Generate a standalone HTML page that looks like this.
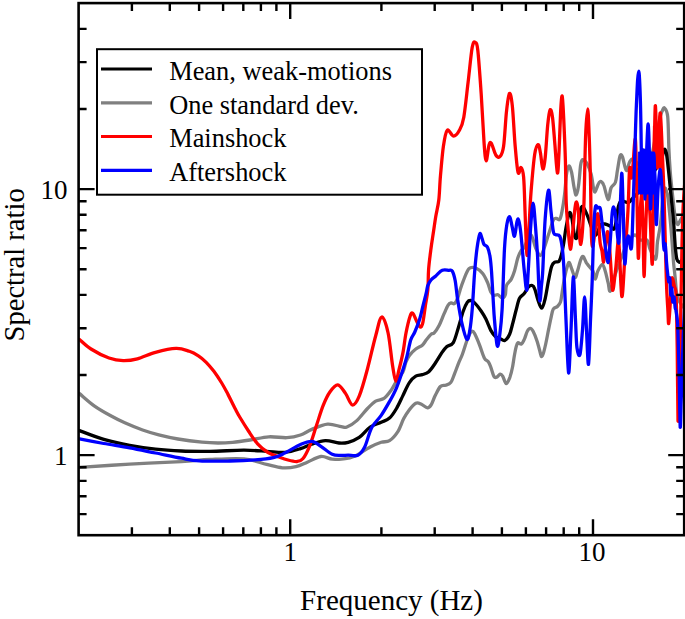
<!DOCTYPE html>
<html><head><meta charset="utf-8"><style>
html,body{margin:0;padding:0;background:#fff;}
svg{display:block;}
text{font-family:"Liberation Serif",serif;fill:#000;}
</style></head><body>
<svg width="685" height="619" viewBox="0 0 685 619">
<defs><clipPath id="c"><rect x="78.6" y="3.1" width="605.6" height="532.1"/></clipPath></defs>
<g clip-path="url(#c)" fill="none" stroke-width="3.3" stroke-linejoin="round" stroke-linecap="round">
<path d="M79.5,393.6 C82.0,395.6 89.1,402.2 94.2,405.8 C99.3,409.4 105.2,412.7 110.3,415.5 C115.4,418.3 119.4,420.4 124.8,422.8 C130.2,425.2 136.9,428.0 142.6,430.0 C148.3,432.0 152.9,433.4 158.8,434.9 C164.7,436.4 170.8,437.8 178.0,439.0 C185.2,440.2 195.3,441.5 202.0,442.2 C208.7,442.9 212.9,443.0 218.0,443.0 C223.1,443.0 227.3,442.8 232.6,442.3 C237.9,441.8 244.0,440.9 250.0,440.0 C256.0,439.1 262.7,437.2 268.8,436.8 C274.9,436.4 281.6,438.0 286.9,437.7 C292.2,437.4 296.4,436.4 300.5,435.0 C304.6,433.6 307.3,431.2 311.8,429.4 C316.3,427.6 322.7,424.6 327.6,424.2 C332.5,423.8 338.0,426.2 341.2,426.7 C344.4,427.2 344.3,428.0 346.9,427.0 C349.4,426.0 353.1,424.0 356.5,420.9 C359.9,417.8 364.3,411.8 367.5,408.5 C370.7,405.2 372.9,402.8 375.7,401.1 C378.4,399.4 381.5,400.1 384.0,398.4 C386.5,396.7 388.5,393.9 390.8,390.7 C393.1,387.5 395.7,382.1 397.7,379.0 C399.7,375.9 401.5,374.8 402.9,372.0 C404.3,369.2 404.9,364.8 406.0,362.0 C407.1,359.2 407.8,357.7 409.4,355.5 C411.0,353.3 413.6,350.7 415.8,349.0 C418.0,347.3 420.6,346.7 422.3,345.2 C424.0,343.7 424.8,341.9 426.2,340.1 C427.6,338.3 429.7,335.6 431.0,334.4 C432.3,333.2 432.8,334.3 434.2,332.8 C435.6,331.3 437.5,328.6 439.1,325.5 C440.7,322.4 442.4,317.6 443.9,314.2 C445.4,310.8 446.8,307.2 448.0,305.3 C449.2,303.4 450.1,303.2 451.2,302.9 C452.3,302.6 453.3,304.5 454.4,303.7 C455.5,302.9 456.8,300.4 457.7,298.1 C458.6,295.8 459.2,292.9 460.1,290.0 C461.0,287.1 461.8,284.4 463.3,280.8 C464.8,277.2 466.9,270.8 469.0,268.7 C471.1,266.6 473.9,267.4 476.2,268.2 C478.5,269.0 480.8,271.1 482.7,273.5 C484.6,275.9 486.1,279.3 487.5,282.4 C488.9,285.5 489.7,290.0 490.8,292.1 C491.9,294.2 492.8,294.9 494.0,295.3 C495.2,295.8 496.6,294.3 498.0,294.8 C499.4,295.3 500.9,298.1 502.1,298.1 C503.3,298.1 504.6,296.9 505.3,294.8 C506.0,292.7 505.5,288.1 506.5,285.5 C507.5,282.9 510.0,281.5 511.3,279.1 C512.6,276.7 513.4,274.5 514.5,271.0 C515.6,267.5 516.7,261.5 517.8,258.1 C518.9,254.7 519.9,252.6 521.0,250.8 C522.1,249.0 522.6,250.2 524.2,247.5 C525.8,244.8 528.8,234.6 530.7,234.6 C532.6,234.6 533.9,244.0 535.5,247.5 C537.1,251.0 538.9,255.6 540.4,255.6 C541.9,255.6 543.0,251.0 544.4,247.5 C545.8,244.0 547.0,239.2 548.5,234.6 C550.0,230.0 552.0,222.8 553.3,220.1 C554.6,217.4 555.4,218.6 556.5,218.5 C557.6,218.4 558.8,220.7 559.8,219.3 C560.8,218.0 561.4,214.6 562.2,210.4 C563.0,206.2 563.9,200.2 564.6,194.2 C565.3,188.2 565.8,179.2 566.5,174.5 C567.2,169.8 568.1,166.4 568.9,166.0 C569.7,165.6 570.6,168.5 571.5,172.0 C572.4,175.5 573.2,183.2 574.0,187.0 C574.8,190.8 575.4,195.2 576.1,195.0 C576.9,194.8 577.8,190.8 578.5,186.0 C579.2,181.2 580.0,170.2 580.5,166.0 C581.0,161.8 581.2,161.5 581.8,160.5 C582.3,159.5 582.9,159.5 583.8,160.0 C584.7,160.5 585.8,161.2 587.0,163.5 C588.2,165.8 590.0,169.9 591.1,174.0 C592.2,178.1 592.8,185.0 593.5,188.0 C594.2,191.0 594.4,192.3 595.1,192.0 C595.8,191.7 596.7,187.8 597.5,186.0 C598.3,184.2 599.0,181.7 600.0,181.5 C601.0,181.3 602.4,182.1 603.7,185.1 C605.1,188.1 606.9,199.1 608.1,199.6 C609.3,200.1 609.8,190.9 611.0,188.0 C612.2,185.1 614.3,185.2 615.4,182.2 C616.5,179.2 616.7,174.4 617.5,170.0 C618.3,165.6 619.2,158.2 620.0,156.0 C620.8,153.8 621.5,154.6 622.5,157.0 C623.5,159.4 625.1,169.7 626.3,170.5 C627.5,171.3 628.5,163.9 629.6,162.0 C630.7,160.1 631.3,158.5 633.0,159.0 C634.7,159.5 637.2,164.8 640.0,165.0 C642.8,165.2 647.5,164.2 650.0,160.0 C652.5,155.8 653.3,147.0 655.0,140.0 C656.7,133.0 658.8,122.8 660.0,118.0 C661.2,113.2 661.5,112.7 662.2,111.0 C663.0,109.3 663.6,107.0 664.5,108.0 C665.4,109.0 667.0,109.9 667.7,116.7 C668.4,123.5 668.5,139.8 668.9,149.1 C669.3,158.4 669.7,164.4 670.3,172.3 C670.9,180.2 671.9,189.0 672.7,196.5 C673.5,204.0 674.4,212.7 675.2,217.4 C676.0,222.1 676.8,223.9 677.6,224.5 C678.4,225.1 679.1,222.4 680.0,221.0 C680.9,219.6 682.2,216.8 683.2,215.8 C684.2,214.8 685.5,215.1 686.0,215.0" stroke="#808080"/>
<path d="M79.5,467.3 C87.9,466.8 112.7,465.1 129.7,464.2 C146.7,463.2 168.0,462.4 181.4,461.6 C194.8,460.8 199.6,460.0 210.0,459.5 C220.4,459.0 234.5,458.0 243.9,458.8 C253.3,459.6 260.2,462.9 266.6,464.4 C273.0,465.9 277.5,467.4 282.4,467.8 C287.3,468.2 291.9,467.6 296.0,466.7 C300.1,465.8 303.2,463.9 307.3,462.2 C311.4,460.5 316.8,457.0 320.9,456.5 C325.0,456.0 328.4,458.8 332.2,459.2 C336.0,459.6 339.9,459.2 343.5,458.8 C347.1,458.4 349.2,458.6 353.7,456.6 C358.1,454.6 365.6,449.4 370.2,447.0 C374.8,444.6 378.0,443.4 381.2,442.3 C384.4,441.2 386.8,442.4 389.5,440.7 C392.2,439.0 395.3,435.5 397.7,431.9 C400.1,428.2 401.7,422.5 403.6,418.8 C405.6,415.1 407.4,412.4 409.4,409.8 C411.4,407.2 413.9,404.3 415.8,403.3 C417.7,402.3 419.1,403.2 421.0,404.0 C422.9,404.8 425.8,407.7 427.5,407.8 C429.2,407.9 430.0,406.6 431.3,404.6 C432.6,402.6 433.7,398.6 435.2,395.6 C436.7,392.6 438.7,388.2 440.4,386.5 C442.1,384.8 443.9,385.8 445.6,385.2 C447.3,384.6 449.2,384.5 450.7,382.6 C452.2,380.7 453.3,376.8 454.6,373.6 C455.9,370.4 457.2,366.5 458.5,363.3 C459.8,360.1 461.1,357.8 462.4,354.2 C463.7,350.6 465.3,345.1 466.5,341.7 C467.7,338.3 468.9,335.4 469.8,333.6 C470.8,331.9 471.4,331.2 472.2,331.2 C473.0,331.2 473.4,331.3 474.6,333.6 C475.8,335.9 477.9,340.8 479.5,344.9 C481.1,348.9 482.8,355.0 484.3,357.9 C485.8,360.8 487.5,360.4 488.6,362.2 C489.8,363.9 490.3,366.0 491.2,368.4 C492.1,370.8 493.0,374.9 493.9,376.4 C494.8,377.9 495.6,377.7 496.6,377.3 C497.6,376.9 499.1,374.4 500.1,374.2 C501.1,374.0 501.8,374.8 502.8,376.4 C503.8,378.0 505.1,383.5 506.3,383.6 C507.5,383.8 508.8,380.1 509.9,377.3 C510.9,374.5 511.9,370.2 512.6,366.7 C513.3,363.1 513.7,359.3 514.3,356.0 C514.9,352.7 515.5,349.3 516.1,347.1 C516.7,344.9 517.0,343.2 517.9,342.7 C518.8,342.2 520.3,344.6 521.4,344.0 C522.5,343.4 523.4,341.2 524.4,339.1 C525.4,337.0 526.3,333.1 527.3,331.3 C528.3,329.5 529.2,328.4 530.2,328.4 C531.2,328.4 532.0,329.2 533.1,331.3 C534.2,333.4 535.9,337.6 537.0,341.0 C538.1,344.4 539.3,349.1 540.0,351.7 C540.7,354.3 540.9,356.3 541.4,356.6 C541.9,356.9 542.6,355.7 543.3,353.6 C544.0,351.5 544.8,348.0 545.7,344.0 C546.6,340.0 547.7,333.8 548.6,329.4 C549.5,325.0 550.2,321.2 551.0,317.8 C551.8,314.4 552.2,310.9 553.3,309.0 C554.4,307.1 556.2,307.7 557.4,306.5 C558.6,305.3 559.8,304.1 560.6,301.7 C561.4,299.3 561.5,296.0 562.2,292.0 C562.9,288.0 563.7,282.1 564.6,277.5 C565.5,272.9 567.1,266.9 567.9,264.5 C568.7,262.1 568.8,262.1 569.5,262.9 C570.2,263.7 571.0,267.0 571.9,269.4 C572.8,271.8 574.2,277.2 575.1,277.5 C576.0,277.8 576.5,274.0 577.5,271.0 C578.5,268.0 579.8,262.1 580.8,259.7 C581.8,257.3 582.3,256.0 583.2,256.5 C584.1,257.0 585.3,261.1 586.4,262.9 C587.5,264.6 588.6,265.6 589.7,267.0 C590.8,268.4 592.0,269.0 592.9,271.0 C593.8,273.0 594.5,279.1 595.3,279.1 C596.1,279.1 596.7,273.4 597.9,270.9 C599.1,268.4 601.1,264.3 602.3,264.3 C603.5,264.3 604.2,267.9 605.2,270.9 C606.2,273.9 607.2,279.1 608.1,282.5 C609.0,285.9 609.1,292.4 610.3,291.2 C611.4,289.9 613.1,280.8 615.0,275.0 C616.9,269.2 619.6,262.2 621.8,256.6 C624.0,251.0 625.8,244.8 628.0,241.2 C630.2,237.6 633.0,235.2 635.0,235.0 C637.0,234.8 638.0,239.2 640.0,240.0 C642.0,240.8 645.3,238.5 647.0,240.0 C648.7,241.5 648.5,245.8 650.0,249.0 C651.5,252.2 654.5,260.3 655.7,259.1 C657.0,257.9 656.7,247.6 657.5,241.8 C658.3,236.0 659.3,233.0 660.4,224.4 C661.5,215.8 662.8,195.2 663.9,190.0 C665.0,184.8 666.3,190.8 667.1,193.2 C667.9,195.6 668.2,199.9 668.7,204.5 C669.2,209.1 669.8,214.7 670.3,220.6 C670.8,226.5 671.4,233.1 671.9,240.0 C672.4,246.9 673.0,255.7 673.5,262.0 C674.0,268.3 674.7,272.6 675.2,278.0 C675.8,283.4 676.0,290.4 676.8,294.5 C677.6,298.6 678.6,300.0 680.1,302.6 C681.6,305.2 685.0,308.8 686.0,310.0" stroke="#808080"/>
<path d="M79.5,430.6 C83.5,432.1 95.4,436.9 103.8,439.4 C112.2,441.8 121.1,443.7 129.7,445.3 C138.3,446.9 146.9,448.2 155.5,449.2 C164.1,450.1 172.3,450.6 181.4,451.0 C190.5,451.4 199.6,451.4 210.0,451.3 C220.4,451.2 234.5,450.2 243.9,450.2 C253.3,450.2 259.8,450.9 266.6,451.3 C273.4,451.7 279.1,452.8 284.7,452.4 C290.3,451.9 296.0,450.0 300.5,448.6 C305.0,447.2 307.7,445.4 311.8,444.1 C315.9,442.8 320.9,440.9 325.4,440.7 C329.9,440.5 335.2,442.7 339.0,443.0 C342.8,443.3 344.8,443.2 348.2,442.3 C351.6,441.4 355.5,439.9 359.2,437.4 C362.9,434.8 366.5,429.5 370.2,427.0 C373.9,424.5 378.0,423.8 381.2,422.3 C384.4,420.8 386.9,420.4 389.5,418.1 C392.1,415.8 394.3,412.2 396.5,408.5 C398.7,404.8 400.8,399.9 402.9,395.6 C405.0,391.3 407.2,385.8 409.4,382.6 C411.5,379.4 413.6,377.5 415.8,376.2 C418.0,374.9 420.1,375.4 422.3,374.6 C424.5,373.9 426.7,373.6 428.8,371.7 C430.9,369.8 433.1,366.4 435.2,363.3 C437.3,360.2 439.8,355.7 441.7,352.9 C443.6,350.1 445.0,348.2 446.9,346.5 C448.8,344.8 451.4,345.8 453.3,342.6 C455.2,339.4 456.8,332.5 458.5,327.2 C460.2,321.9 461.8,315.2 463.3,311.0 C464.8,306.8 466.2,303.9 467.4,302.1 C468.6,300.4 469.4,300.4 470.6,300.5 C471.8,300.6 472.9,301.1 474.6,302.9 C476.4,304.6 479.2,308.3 481.1,311.0 C483.0,313.7 484.3,315.9 485.9,319.1 C487.5,322.3 489.2,327.4 490.8,330.4 C492.4,333.3 494.1,335.4 495.6,336.8 C497.1,338.2 498.5,337.9 500.0,338.5 C501.5,339.1 503.2,341.2 504.8,340.5 C506.4,339.8 508.4,337.0 509.7,334.0 C511.0,331.0 511.8,326.7 512.9,322.7 C514.0,318.7 515.1,313.8 516.2,309.8 C517.3,305.8 518.1,301.2 519.4,298.5 C520.7,295.8 522.7,295.5 524.2,293.6 C525.7,291.7 526.9,288.6 528.3,287.2 C529.6,285.8 531.2,285.2 532.3,285.5 C533.4,285.8 533.8,286.4 534.7,288.8 C535.7,291.2 536.8,296.9 538.0,300.1 C539.2,303.3 540.5,308.5 541.7,308.2 C542.9,307.9 544.1,303.1 545.2,298.5 C546.3,293.9 547.4,286.1 548.5,280.7 C549.6,275.3 550.6,269.3 551.7,266.2 C552.8,263.1 553.7,262.9 554.9,262.1 C556.1,261.3 557.9,262.5 559.0,261.3 C560.1,260.1 560.6,257.9 561.4,254.8 C562.2,251.7 563.0,247.4 563.8,242.7 C564.6,238.0 565.2,231.5 566.2,226.5 C567.2,221.5 568.5,214.1 569.5,212.8 C570.5,211.5 571.1,214.9 571.9,218.5 C572.7,222.1 573.5,231.4 574.3,234.6 C575.1,237.8 576.0,239.5 576.7,237.9 C577.4,236.3 577.8,229.8 578.5,225.0 C579.2,220.2 580.0,211.8 580.8,208.8 C581.6,205.8 582.1,206.1 583.2,207.2 C584.3,208.3 585.9,212.1 587.2,215.2 C588.5,218.3 589.9,222.9 591.0,226.0 C592.1,229.1 593.2,232.0 594.0,233.5 C594.8,235.0 595.2,235.6 596.0,235.0 C596.8,234.4 597.7,231.8 598.5,230.0 C599.3,228.2 599.9,225.5 601.0,224.5 C602.1,223.5 603.5,223.8 605.0,224.0 C606.5,224.2 608.5,225.2 610.0,226.0 C611.5,226.8 613.0,230.0 614.0,229.0 C615.0,228.0 615.6,223.7 616.3,220.0 C617.0,216.3 617.5,210.2 618.3,207.0 C619.1,203.8 619.5,201.8 621.2,201.1 C622.9,200.3 626.5,203.0 628.4,202.5 C630.3,202.0 630.0,201.1 632.8,198.2 C635.6,195.3 641.3,189.7 645.0,185.0 C648.7,180.3 652.2,174.4 655.0,170.0 C657.8,165.6 660.2,161.8 661.7,158.4 C663.2,155.0 663.1,150.6 663.9,149.7 C664.7,148.8 665.5,149.1 666.3,152.9 C667.1,156.7 667.9,165.0 668.7,172.3 C669.5,179.6 670.3,188.4 671.1,196.5 C671.9,204.6 672.8,212.3 673.5,220.6 C674.2,228.9 674.7,239.7 675.2,246.1 C675.8,252.5 676.1,256.3 676.8,259.0 C677.5,261.7 678.4,262.0 679.2,262.3 C680.0,262.6 680.5,261.7 681.6,260.6 C682.7,259.6 685.3,256.8 686.0,256.0" stroke="#000"/>
<path d="M79.5,339.4 C81.4,341.0 86.1,345.9 91.0,349.0 C95.9,352.1 103.6,356.1 109.0,358.0 C114.4,359.9 118.5,360.5 123.2,360.6 C127.9,360.7 132.0,360.2 137.4,358.8 C142.8,357.4 149.1,354.0 155.5,352.3 C161.9,350.6 170.3,348.6 176.0,348.4 C181.7,348.2 185.7,350.1 189.4,351.3 C193.1,352.5 195.6,354.0 198.4,355.8 C201.2,357.6 203.6,359.7 206.2,362.3 C208.8,364.9 211.3,367.9 213.9,371.3 C216.5,374.8 219.3,379.1 221.7,383.0 C224.1,386.9 225.8,390.3 228.1,394.6 C230.3,398.9 233.2,405.0 235.2,408.8 C237.2,412.6 237.7,413.7 240.0,417.5 C242.3,421.3 245.9,427.1 248.8,431.5 C251.7,435.9 254.4,440.3 257.6,443.8 C260.8,447.3 264.4,450.3 268.0,452.5 C271.6,454.7 275.7,455.8 279.0,457.0 C282.3,458.2 285.0,459.2 288.0,460.0 C291.0,460.8 294.6,461.7 297.1,461.5 C299.6,461.3 300.7,461.3 302.8,458.8 C304.9,456.3 307.2,451.8 309.5,446.3 C311.8,440.8 314.0,432.8 316.3,426.0 C318.6,419.2 320.8,411.3 323.1,405.6 C325.4,399.9 327.4,395.5 329.9,392.0 C332.3,388.5 335.2,384.6 337.8,384.8 C340.4,385.0 343.1,390.0 345.5,393.4 C347.9,396.8 350.1,404.5 352.4,405.0 C354.7,405.5 356.7,402.2 359.2,396.2 C361.7,390.1 364.8,378.8 367.5,368.7 C370.2,358.6 373.3,344.3 375.7,335.7 C378.1,327.1 379.7,317.4 381.8,317.0 C383.9,316.6 386.3,324.9 388.1,333.0 C389.9,341.1 391.3,357.8 392.6,365.8 C393.9,373.8 394.7,380.4 395.8,381.0 C396.9,381.6 397.8,374.4 399.0,369.7 C400.2,365.0 401.7,359.0 402.9,352.9 C404.1,346.8 404.8,339.1 406.0,333.0 C407.2,326.9 408.9,319.8 410.0,316.5 C411.1,313.2 411.6,312.3 412.8,313.2 C414.0,314.1 415.7,319.7 417.0,322.0 C418.3,324.3 419.5,327.1 420.5,327.2 C421.5,327.2 422.1,325.8 422.9,322.3 C423.7,318.8 424.5,311.6 425.3,306.2 C426.1,300.8 427.2,296.1 427.8,290.0 C428.4,283.9 428.1,276.4 428.6,269.5 C429.1,262.6 430.2,254.7 431.0,248.5 C431.8,242.3 432.6,237.7 433.4,232.3 C434.2,226.9 434.9,221.6 435.8,216.2 C436.7,210.8 438.0,206.8 438.8,200.0 C439.6,193.2 439.7,184.2 440.5,175.3 C441.3,166.4 442.3,153.8 443.4,146.3 C444.5,138.8 445.5,132.0 447.2,130.3 C448.9,128.6 451.6,136.1 453.6,136.1 C455.6,136.1 457.7,133.5 459.4,130.3 C461.1,127.2 462.4,125.2 463.8,117.2 C465.2,109.2 466.7,93.9 468.1,82.3 C469.5,70.7 471.0,54.0 472.2,47.4 C473.4,40.8 474.3,41.9 475.2,42.4 C476.1,42.9 476.8,41.7 477.8,50.3 C478.8,58.9 480.1,78.5 481.2,94.0 C482.2,109.5 483.3,132.3 484.1,143.4 C484.9,154.5 485.4,160.6 486.2,160.8 C487.0,161.0 488.2,147.7 489.1,144.8 C490.0,141.9 490.3,141.7 491.4,143.4 C492.5,145.1 494.4,152.8 495.8,155.0 C497.2,157.2 498.8,157.9 500.1,156.5 C501.4,155.1 502.5,153.8 503.6,146.3 C504.7,138.8 505.5,120.2 506.5,111.4 C507.5,102.6 508.4,94.5 509.4,93.5 C510.4,92.5 511.3,96.8 512.3,105.6 C513.3,114.4 514.2,135.1 515.2,146.3 C516.2,157.5 517.1,169.1 518.1,172.6 C519.1,176.1 520.1,166.8 521.0,167.5 C521.9,168.2 522.9,169.8 523.6,177.0 C524.3,184.2 524.6,199.5 525.0,210.4 C525.4,221.3 525.9,235.2 526.2,242.7 C526.6,250.2 526.8,255.6 527.1,255.6 C527.5,255.6 527.8,250.2 528.3,242.7 C528.8,235.2 529.4,219.8 529.9,210.4 C530.4,201.0 530.7,195.5 531.5,186.2 C532.3,176.8 533.6,161.2 534.7,154.3 C535.8,147.4 537.0,144.9 538.0,144.6 C539.0,144.3 539.6,148.6 540.4,152.7 C541.2,156.8 542.0,168.1 542.8,168.9 C543.6,169.7 544.4,164.8 545.2,157.5 C546.0,150.2 546.9,133.1 547.7,125.2 C548.5,117.3 549.3,111.2 550.1,109.9 C550.9,108.6 551.7,111.4 552.5,117.2 C553.3,123.0 554.1,135.3 554.9,144.6 C555.7,153.9 556.7,171.6 557.4,172.9 C558.1,174.2 558.5,162.8 559.0,152.7 C559.5,142.6 560.1,121.8 560.6,112.3 C561.1,102.8 561.7,94.7 562.2,96.0 C562.7,97.3 563.3,109.6 563.8,120.4 C564.3,131.2 565.0,147.2 565.4,160.8 C565.8,174.5 565.8,191.4 566.2,202.3 C566.6,213.2 567.2,218.7 567.9,226.5 C568.6,234.3 569.5,248.4 570.3,249.2 C571.1,250.0 571.9,238.4 572.7,231.4 C573.5,224.4 574.4,212.0 575.1,207.2 C575.8,202.3 576.2,201.5 576.7,202.3 C577.2,203.1 577.9,206.6 578.4,212.0 C578.9,217.4 579.1,229.2 579.5,234.6 C579.9,240.0 580.3,244.8 580.8,244.3 C581.3,243.8 581.9,238.4 582.4,231.4 C582.9,224.4 583.5,218.1 584.0,202.3 C584.5,186.5 585.0,152.1 585.6,136.5 C586.2,121.0 587.1,109.0 587.7,109.0 C588.3,109.0 588.7,124.7 589.2,136.5 C589.7,148.3 590.1,164.2 590.5,180.0 C590.9,195.8 590.9,220.4 591.3,231.4 C591.7,242.4 592.0,248.3 592.9,245.9 C593.8,243.5 596.0,221.7 596.9,216.8 C597.8,211.9 598.1,214.0 598.5,216.5 C598.9,219.0 599.0,227.4 599.3,232.0 C599.6,236.6 599.8,240.8 600.3,244.0 C600.8,247.2 601.5,248.0 602.0,251.0 C602.5,254.0 603.1,262.5 603.6,262.0 C604.1,261.5 604.7,253.0 605.3,248.0 C605.9,243.0 606.7,233.3 607.3,232.0 C607.9,230.7 608.5,235.0 609.0,240.0 C609.5,245.0 610.0,253.6 610.6,262.0 C611.2,270.4 611.8,289.2 612.6,290.3 C613.5,291.4 614.7,277.0 615.7,268.8 C616.7,260.6 617.7,236.6 618.7,241.2 C619.7,245.8 620.8,293.8 621.8,296.4 C622.8,299.0 623.9,271.0 624.9,256.6 C625.9,242.2 627.2,224.7 628.0,210.0 C628.8,195.3 629.0,173.8 629.6,168.5 C630.2,163.2 630.9,178.6 631.5,178.0 C632.1,177.4 632.4,171.4 633.0,165.0 C633.6,158.6 634.8,135.2 635.4,139.4 C636.0,143.6 636.3,170.2 636.8,190.0 C637.3,209.8 637.8,253.9 638.3,258.1 C638.8,262.3 639.4,225.5 640.0,215.0 C640.6,204.5 641.3,192.5 641.8,195.0 C642.3,197.5 642.6,216.4 643.0,230.0 C643.4,243.6 643.7,276.5 644.1,276.5 C644.5,276.5 645.0,245.2 645.6,230.0 C646.2,214.8 647.1,187.5 647.8,185.0 C648.5,182.5 649.2,201.8 650.0,215.0 C650.8,228.2 651.7,268.2 652.3,264.0 C652.9,259.8 653.1,216.2 653.6,190.0 C654.1,163.8 654.7,115.3 655.2,107.0 C655.7,98.7 656.1,129.8 656.5,140.0 C656.9,150.2 657.1,168.0 657.5,168.0 C657.9,168.0 658.2,149.2 658.7,140.0 C659.2,130.8 659.7,111.3 660.3,113.0 C660.9,114.7 661.6,136.3 662.2,150.0 C662.8,163.7 663.3,173.6 664.0,195.0 C664.7,216.4 665.6,259.1 666.3,278.4 C666.9,297.7 667.5,303.1 667.9,310.6 C668.3,318.1 668.3,324.8 668.7,323.5 C669.1,322.2 669.8,310.1 670.3,302.6 C670.8,295.1 671.2,281.1 671.9,278.4 C672.6,275.7 673.7,283.8 674.4,286.5 C675.1,289.2 675.5,284.4 676.0,294.5 C676.5,304.6 676.9,326.1 677.2,347.0 C677.5,367.9 677.7,412.8 678.0,420.0 C678.3,427.2 678.8,402.5 679.2,390.0 C679.6,377.5 679.9,360.0 680.2,345.0 C680.5,330.0 680.7,315.0 681.0,300.0 C681.3,285.0 681.5,270.0 681.8,255.0 C682.1,240.0 682.5,222.5 683.0,210.0 C683.5,197.5 684.7,185.0 685.0,180.0" stroke="#ff0000"/>
<path d="M653.8,126.0 L661.6,126.0 L663.2,168.0 L653.2,168.0Z" fill="#ff0000" stroke="#ff0000" stroke-width="1"/>
<path d="M79.5,438.9 C83.5,439.7 95.4,442.0 103.8,443.5 C112.2,445.0 121.1,446.3 129.7,447.9 C138.3,449.5 146.9,451.3 155.5,453.0 C164.1,454.7 174.1,456.9 181.4,458.2 C188.7,459.5 191.3,460.3 199.4,460.8 C207.5,461.3 220.7,461.1 230.0,461.0 C239.3,460.9 248.0,460.5 255.2,459.9 C262.4,459.3 268.4,458.7 273.3,457.6 C278.2,456.5 280.2,455.3 284.7,453.1 C289.2,450.9 296.0,446.4 300.5,444.5 C305.0,442.6 308.4,441.1 311.8,441.4 C315.2,441.7 317.5,444.1 320.9,446.3 C324.3,448.5 328.8,452.8 332.2,454.3 C335.6,455.8 338.5,455.2 341.2,455.4 C343.9,455.5 345.4,455.2 348.2,455.2 C351.0,455.2 355.1,456.6 357.9,455.2 C360.6,453.8 362.4,451.6 364.7,447.0 C367.0,442.4 368.9,433.0 371.6,427.7 C374.4,422.4 378.2,419.8 381.2,415.4 C384.2,411.0 386.9,406.2 389.5,401.6 C392.1,397.0 394.3,393.1 396.5,387.8 C398.7,382.5 401.2,374.9 402.9,369.7 C404.6,364.5 405.5,361.8 406.8,356.8 C408.1,351.9 409.4,344.1 410.7,340.0 C412.0,335.9 413.3,335.5 414.8,332.0 C416.3,328.5 418.4,323.4 419.7,319.1 C421.0,314.8 421.8,310.5 422.9,306.2 C424.0,301.9 425.4,296.6 426.2,293.2 C427.0,289.8 427.0,287.8 427.8,285.6 C428.6,283.4 429.7,281.6 431.0,280.0 C432.3,278.4 433.9,277.5 435.8,275.9 C437.7,274.3 440.1,271.2 442.3,270.3 C444.5,269.4 447.1,270.2 448.8,270.3 C450.5,270.4 451.2,269.4 452.3,271.1 C453.4,272.9 454.3,276.0 455.2,280.8 C456.1,285.6 456.6,293.1 457.7,300.0 C458.8,306.9 460.2,315.8 461.7,322.3 C463.2,328.9 465.5,338.0 466.9,339.3 C468.2,340.6 468.9,335.4 469.8,330.4 C470.7,325.4 471.4,319.0 472.2,309.4 C473.0,299.8 473.8,282.8 474.6,272.7 C475.4,262.6 476.1,255.0 477.0,248.5 C477.9,242.0 479.0,235.7 479.8,233.9 C480.6,232.2 481.2,236.2 481.9,238.0 C482.6,239.8 483.1,242.9 484.0,244.4 C484.9,245.9 486.5,245.2 487.5,247.2 C488.5,249.2 489.3,252.2 490.0,256.5 C490.7,260.8 491.1,265.4 491.6,272.7 C492.1,279.9 492.7,292.1 493.2,300.0 C493.7,307.9 493.8,312.4 494.5,320.0 C495.2,327.6 496.3,343.2 497.2,345.7 C498.1,348.2 498.9,341.2 499.7,335.2 C500.5,329.1 501.3,323.8 502.1,309.4 C502.9,294.9 503.7,262.7 504.5,248.5 C505.3,234.3 506.0,229.5 506.9,224.2 C507.8,218.9 508.8,216.4 509.7,216.8 C510.6,217.2 511.3,223.3 512.1,226.5 C512.9,229.7 513.7,237.0 514.5,236.2 C515.3,235.4 516.3,224.4 517.0,221.7 C517.7,219.0 517.9,217.9 518.6,220.1 C519.3,222.2 520.1,226.3 521.0,234.6 C521.9,242.9 523.2,260.7 524.2,270.0 C525.2,279.3 526.0,290.4 526.7,290.4 C527.4,290.4 527.6,280.6 528.3,270.0 C529.0,259.4 529.9,237.7 530.7,226.5 C531.5,215.3 532.3,203.1 533.1,203.1 C533.9,203.1 534.8,217.8 535.5,226.5 C536.2,235.2 536.8,242.8 537.5,255.0 C538.2,267.2 538.9,295.0 539.6,300.0 C540.3,305.0 541.0,290.0 541.5,285.0 C542.0,280.0 542.2,281.1 542.8,270.0 C543.4,258.9 544.2,231.8 545.2,218.5 C546.2,205.2 547.5,191.5 548.5,190.2 C549.5,188.8 550.1,203.5 550.9,210.4 C551.7,217.3 552.5,227.4 553.3,231.4 C554.1,235.4 554.6,233.8 555.7,234.6 C556.8,235.4 558.7,234.0 559.8,236.2 C560.9,238.3 561.5,242.4 562.2,247.5 C562.9,252.6 563.2,254.8 563.8,266.9 C564.4,279.0 565.2,302.3 566.0,320.0 C566.8,337.7 567.8,371.2 568.6,372.9 C569.4,374.6 570.2,346.0 571.0,330.0 C571.8,314.0 572.5,278.7 573.3,277.0 C574.0,275.3 574.9,308.2 575.5,320.0 C576.1,331.8 576.2,342.2 577.0,348.0 C577.8,353.8 579.1,357.5 580.0,354.5 C580.9,351.5 581.7,339.6 582.5,330.0 C583.3,320.4 583.9,297.0 584.6,297.0 C585.3,297.0 585.9,318.8 586.5,330.0 C587.1,341.2 587.8,366.0 588.5,364.3 C589.2,362.6 589.9,333.9 590.5,320.0 C591.1,306.1 591.7,294.9 592.2,280.7 C592.7,266.5 593.1,245.9 593.5,235.0 C593.9,224.1 594.1,219.8 594.5,215.0 C594.9,210.2 595.2,207.2 595.7,206.0 C596.2,204.8 597.0,207.8 597.5,208.0 C598.0,208.2 598.3,207.3 598.8,207.5 C599.3,207.7 599.9,206.6 600.4,209.0 C600.9,211.4 601.4,217.7 602.0,222.0 C602.6,226.3 603.2,230.7 603.8,235.0 C604.4,239.3 604.8,243.4 605.5,248.0 C606.2,252.6 607.3,262.7 608.0,262.7 C608.7,262.7 609.2,253.4 609.7,248.0 C610.2,242.6 610.6,235.8 611.0,230.0 C611.4,224.2 611.8,216.8 612.2,213.0 C612.6,209.2 612.8,207.2 613.3,207.0 C613.8,206.8 614.5,209.0 615.0,212.0 C615.5,215.0 615.9,219.9 616.5,225.0 C617.1,230.1 618.2,246.8 618.9,242.6 C619.6,238.4 620.0,211.5 620.5,200.0 C621.0,188.5 621.4,171.7 621.9,173.4 C622.4,175.1 622.7,195.1 623.2,210.0 C623.7,224.9 624.2,257.2 624.7,263.0 C625.2,268.8 625.9,249.5 626.5,245.0 C627.1,240.5 627.7,235.6 628.5,236.0 C629.3,236.4 630.7,254.3 631.5,247.5 C632.3,240.7 632.8,214.6 633.5,195.0 C634.2,175.4 635.0,145.0 635.5,130.0 C636.0,115.0 636.0,113.3 636.4,105.0 C636.8,96.7 637.2,85.6 637.6,80.0 C638.0,74.4 638.4,71.2 638.7,71.2 C639.0,71.2 639.3,74.4 639.6,80.0 C639.9,85.6 640.3,96.7 640.5,105.0 C640.7,113.3 640.8,118.3 641.0,130.0 C641.2,141.7 641.5,170.0 641.8,175.0 C642.1,180.0 642.5,163.8 642.8,160.0 C643.1,156.2 643.4,145.5 643.8,152.0 C644.2,158.5 644.6,199.3 645.1,199.0 C645.6,198.7 646.2,162.5 646.7,150.0 C647.2,137.5 647.7,124.0 648.1,124.0 C648.5,124.0 648.9,136.0 649.3,150.0 C649.7,164.0 650.0,202.2 650.4,208.0 C650.8,213.8 651.1,192.2 651.5,185.0 C651.9,177.8 652.1,170.2 652.5,165.0 C652.9,159.8 653.4,151.5 653.8,154.0 C654.2,156.5 654.6,168.2 655.0,180.0 C655.4,191.8 655.8,222.8 656.3,224.5 C656.8,226.2 657.4,199.2 658.0,190.0 C658.6,180.8 659.5,170.3 660.1,169.5 C660.7,168.7 661.3,179.2 661.7,185.0 C662.1,190.8 662.2,195.7 662.5,204.5 C662.8,213.3 662.9,230.4 663.2,238.0 C663.5,245.6 663.9,249.0 664.2,250.0 C664.5,251.0 664.8,242.0 665.2,244.0 C665.6,246.0 666.1,256.8 666.5,262.0 C666.9,267.2 667.4,271.7 667.8,275.0 C668.2,278.3 668.5,281.5 668.8,282.0 C669.1,282.5 669.5,275.8 669.8,278.0 C670.1,280.2 670.5,293.3 670.8,295.0 C671.1,296.7 671.5,286.8 671.8,288.0 C672.1,289.2 672.4,300.5 672.8,302.0 C673.2,303.5 673.6,296.0 674.0,297.0 C674.4,298.0 674.9,305.7 675.2,308.0 C675.5,310.3 675.6,308.0 676.0,310.6 C676.4,313.2 677.2,316.9 677.6,323.5 C678.0,330.1 678.2,340.9 678.5,350.0 C678.8,359.1 678.9,365.2 679.2,378.0 C679.5,390.8 679.9,423.3 680.2,427.0 C680.5,430.7 680.9,408.2 681.2,400.0 C681.5,391.8 681.8,388.2 682.1,378.0 C682.4,367.8 682.6,352.0 683.1,339.0 C683.6,326.0 684.7,306.5 685.0,300.0" stroke="#0000ff"/>
<path d="M638.8,152.0 L654.5,152.0 L656.5,194.0 L639.0,194.0Z" fill="#0000ff" stroke="#0000ff" stroke-width="1"/>
</g>
<path d="M131.9,535.2 V527.2 M131.9,3.1 V11.1 M169.8,535.2 V527.2 M169.8,3.1 V11.1 M199.1,535.2 V527.2 M199.1,3.1 V11.1 M223.1,535.2 V527.2 M223.1,3.1 V11.1 M243.3,535.2 V527.2 M243.3,3.1 V11.1 M260.9,535.2 V527.2 M260.9,3.1 V11.1 M276.4,535.2 V527.2 M276.4,3.1 V11.1 M290.2,535.2 V519.2 M290.2,3.1 V19.1 M381.4,535.2 V527.2 M381.4,3.1 V11.1 M434.7,535.2 V527.2 M434.7,3.1 V11.1 M472.6,535.2 V527.2 M472.6,3.1 V11.1 M501.9,535.2 V527.2 M501.9,3.1 V11.1 M525.9,535.2 V527.2 M525.9,3.1 V11.1 M546.1,535.2 V527.2 M546.1,3.1 V11.1 M563.7,535.2 V527.2 M563.7,3.1 V11.1 M579.2,535.2 V527.2 M579.2,3.1 V11.1 M593.0,535.2 V519.2 M593.0,3.1 V19.1 M78.6,514.1 H86.6 M684.2,514.1 H676.2 M78.6,496.3 H86.6 M684.2,496.3 H676.2 M78.6,480.9 H86.6 M684.2,480.9 H676.2 M78.6,467.3 H86.6 M684.2,467.3 H676.2 M78.6,455.1 H94.6 M684.2,455.1 H668.2 M78.6,375.0 H86.6 M684.2,375.0 H676.2 M78.6,328.2 H86.6 M684.2,328.2 H676.2 M78.6,294.9 H86.6 M684.2,294.9 H676.2 M78.6,269.2 H86.6 M684.2,269.2 H676.2 M78.6,248.1 H86.6 M684.2,248.1 H676.2 M78.6,230.3 H86.6 M684.2,230.3 H676.2 M78.6,214.8 H86.6 M684.2,214.8 H676.2 M78.6,201.2 H86.6 M684.2,201.2 H676.2 M78.6,189.1 H94.6 M684.2,189.1 H668.2 M78.6,109.0 H86.6 M684.2,109.0 H676.2 M78.6,62.1 H86.6 M684.2,62.1 H676.2 M78.6,28.9 H86.6 M684.2,28.9 H676.2" stroke="#000" stroke-width="2.4" fill="none"/>
<rect x="78.6" y="3.1" width="605.6" height="532.1" fill="none" stroke="#000" stroke-width="2.6"/>
<rect x="97" y="49.2" width="325" height="145.5" fill="#fff" stroke="#000" stroke-width="2"/>
<g stroke-width="3.2">
<line x1="101" y1="69" x2="152" y2="69" stroke="#000"/>
<line x1="101" y1="102.8" x2="152" y2="102.8" stroke="#808080"/>
<line x1="101" y1="136.5" x2="152" y2="136.5" stroke="#ff0000"/>
<line x1="101" y1="170.3" x2="152" y2="170.3" stroke="#0000ff"/>
</g>
<g font-size="26.4">
<text x="169.2" y="80">Mean, weak-motions</text>
<text x="169.2" y="113.7">One standard dev.</text>
<text x="169.2" y="147.4">Mainshock</text>
<text x="169.2" y="181.1">Aftershock</text>
</g>
<g font-size="27" text-anchor="middle">
<text x="290.2" y="561">1</text>
<text x="592.0" y="561">10</text>
<text x="67.5" y="198.7" text-anchor="end">10</text>
<text x="67.5" y="464.7" text-anchor="end">1</text>
</g>
<text x="391.5" y="610" font-size="29" text-anchor="middle">Frequency (Hz)</text>
<text transform="translate(24.4,264.9) rotate(-90)" font-size="28.6" text-anchor="middle">Spectral ratio</text>
</svg>
</body></html>
